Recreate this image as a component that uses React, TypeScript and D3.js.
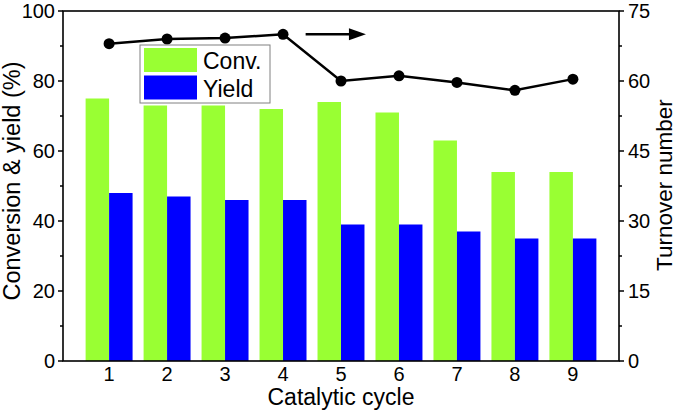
import React, { useEffect, useRef } from "react";
import * as d3 from "d3";

const cycles = ["1", "2", "3", "4", "5", "6", "7", "8", "9"];
const conversion = [75, 73, 73, 72, 74, 71, 63, 54, 54];
const yieldVals = [48, 47, 46, 46, 39, 39, 37, 35, 35];
const turnover = [68, 69, 69.2, 70, 60, 61.1, 59.7, 58, 60.4];
const seriesKeys = ["Conv.", "Yield"];
const leftTicks = [0, 20, 40, 60, 80, 100];
const rightTicks = [0, 15, 30, 45, 60, 75];
// arrow pointing to the right axis: [cycle start, cycle end, turnover level]
const arrowSpec = [4.39, 5.43, 70];

const W = 677;
const H = 411;
const M = { left: 63, right: 619, top: 11, bottom: 361 };
const colors = { "Conv.": "#99ff33", Yield: "#0000ff" };
const FONT = "'Liberation Sans', Arial, sans-serif";

export default function App() {
  const svgRef = useRef(null);

  useEffect(() => {
    document.body.style.margin = "0";
    const svg = d3.select(svgRef.current);
    svg.selectAll("*").remove();

    const x0 = d3.scaleBand().domain(cycles).range([M.left, M.right])
      .paddingInner(0.19).paddingOuter(0.39);
    const x1 = d3.scaleBand().domain(seriesKeys).range([0, x0.bandwidth()]);
    const xc = (i) => x0(cycles[i]) + x0.bandwidth() / 2;
    // linear cycle -> pixel, for the annotation arrow
    const xLin = d3.scaleLinear().domain([1, 9]).range([xc(0), xc(8)]);

    const yL = d3.scaleLinear().domain([0, 100]).range([M.bottom, M.top]);
    const yR = d3.scaleLinear().domain([0, 75]).range([M.bottom, M.top]);

    const rows = cycles.map((c, i) => ({ c, "Conv.": conversion[i], Yield: yieldVals[i] }));

    // bars
    svg.append("g")
      .selectAll("g")
      .data(rows)
      .join("g")
      .attr("transform", d => `translate(${x0(d.c)},0)`)
      .selectAll("rect")
      .data(d => seriesKeys.map(k => ({ k, v: d[k] })))
      .join("rect")
      .attr("x", d => x1(d.k))
      .attr("width", x1.bandwidth())
      .attr("y", d => yL(d.v))
      .attr("height", d => yL(0) - yL(d.v))
      .attr("fill", d => colors[d.k]);

    // turnover line
    const line = d3.line().x((d, i) => xc(i)).y(d => yR(d));
    svg.append("path")
      .datum(turnover)
      .attr("d", line)
      .attr("fill", "none")
      .attr("stroke", "#000")
      .attr("stroke-width", 2.5);
    svg.append("g")
      .selectAll("circle")
      .data(turnover)
      .join("circle")
      .attr("cx", (d, i) => xc(i))
      .attr("cy", d => yR(d))
      .attr("r", 5.5)
      .attr("fill", "#000");

    // arrow
    const ax0 = xLin(arrowSpec[0]);
    const ax1 = xLin(arrowSpec[1]);
    const ay = yR(arrowSpec[2]);
    svg.append("line")
      .attr("x1", ax0).attr("x2", ax1 - 14)
      .attr("y1", ay).attr("y2", ay)
      .attr("stroke", "#000").attr("stroke-width", 2.5);
    svg.append("path")
      .attr("d", `M${ax1 - 17},${ay - 6}L${ax1},${ay}L${ax1 - 17},${ay + 6}Z`)
      .attr("fill", "#000");

    // frame
    svg.append("rect")
      .attr("x", M.left).attr("y", M.top)
      .attr("width", M.right - M.left).attr("height", M.bottom - M.top)
      .attr("fill", "none").attr("stroke", "#000").attr("stroke-width", 1.6);

    // left axis ticks
    const leftMinor = d3.range(10, 100, 20);
    const gl = svg.append("g");
    gl.selectAll("line.maj").data(leftTicks).join("line")
      .attr("x1", M.left - 5).attr("x2", M.left)
      .attr("y1", d => yL(d)).attr("y2", d => yL(d))
      .attr("stroke", "#000").attr("stroke-width", 1.5);
    gl.selectAll("line.min").data(leftMinor).join("line")
      .attr("x1", M.left - 3).attr("x2", M.left)
      .attr("y1", d => yL(d)).attr("y2", d => yL(d))
      .attr("stroke", "#000").attr("stroke-width", 1.5);
    gl.selectAll("text").data(leftTicks).join("text")
      .attr("x", M.left - 8).attr("y", d => yL(d) + 7)
      .attr("text-anchor", "end")
      .attr("font-size", 20).attr("font-family", FONT)
      .text(d => d);

    // right axis ticks
    const rightMinor = d3.range(7.5, 75, 15);
    const gr = svg.append("g");
    gr.selectAll("line.maj").data(rightTicks).join("line")
      .attr("x1", M.right).attr("x2", M.right + 5)
      .attr("y1", d => yR(d)).attr("y2", d => yR(d))
      .attr("stroke", "#000").attr("stroke-width", 1.5);
    gr.selectAll("line.min").data(rightMinor).join("line")
      .attr("x1", M.right).attr("x2", M.right + 3)
      .attr("y1", d => yR(d)).attr("y2", d => yR(d))
      .attr("stroke", "#000").attr("stroke-width", 1.5);
    gr.selectAll("text").data(rightTicks).join("text")
      .attr("x", M.right + 9).attr("y", d => yR(d) + 7)
      .attr("font-size", 20).attr("font-family", FONT)
      .text(d => d);

    // x labels
    svg.append("g").selectAll("text").data(cycles).join("text")
      .attr("x", (d, i) => xc(i)).attr("y", 381)
      .attr("text-anchor", "middle")
      .attr("font-size", 20).attr("font-family", FONT)
      .text(d => d);

    // titles
    svg.append("text")
      .attr("x", (M.left + M.right) / 2).attr("y", 405)
      .attr("text-anchor", "middle")
      .attr("font-size", 23).attr("font-family", FONT)
      .text("Catalytic cycle");
    svg.append("text")
      .attr("transform", `translate(20,181) rotate(-90)`)
      .attr("text-anchor", "middle")
      .attr("font-size", 23.5).attr("font-family", FONT)
      .text("Conversion & yield (%)");
    svg.append("text")
      .attr("transform", `translate(672,185) rotate(-90)`)
      .attr("text-anchor", "middle")
      .attr("font-size", 22.5).attr("font-family", FONT)
      .text("Turnover number");

    // legend
    const lg = svg.append("g").attr("transform", "translate(140,45)");
    lg.append("rect")
      .attr("width", 130).attr("height", 58)
      .attr("fill", "#fff").attr("stroke", "#808080").attr("stroke-width", 1);
    const items = lg.selectAll("g").data(seriesKeys).join("g")
      .attr("transform", (d, i) => `translate(4,${3 + i * 27.5})`);
    items.append("rect")
      .attr("width", 53).attr("height", 24)
      .attr("fill", d => colors[d]);
    items.append("text")
      .attr("x", 59).attr("y", 21)
      .attr("font-size", 23).attr("font-family", FONT)
      .text(d => d);
  }, []);

  return (
    <svg ref={svgRef} width={W} height={H}
      style={{ display: "block", position: "absolute", left: 0, top: 0, background: "#fff" }} />
  );
}
